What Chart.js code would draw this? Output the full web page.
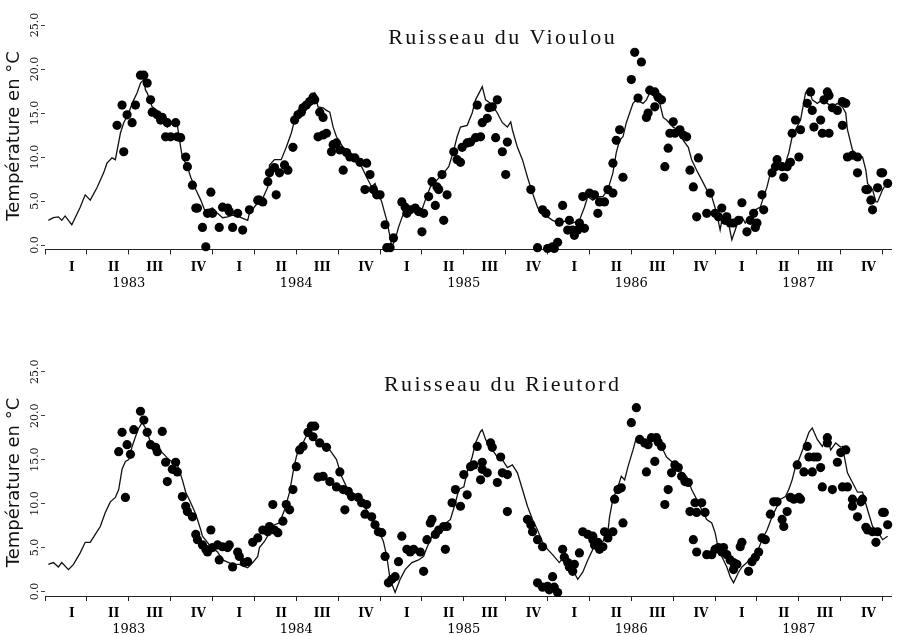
<!DOCTYPE html>
<html>
<head>
<meta charset="utf-8">
<script src="https://cdn.jsdelivr.net/npm/chart.js@4.4.1/dist/chart.umd.min.js"></script>
<style>
  html, body { margin: 0; padding: 0; background: #fff; }
  .panel { width: 897px; height: 318px; position: relative; }
  canvas { display: block; }
</style>
</head>
<body>
<div class="panel"><canvas id="c1" width="897" height="318"></canvas></div>
<div class="panel"><canvas id="c2" width="897" height="318"></canvas></div>
<script>
// ---------- labels ----------
const panelTitles = ['Ruisseau du Vioulou', 'Ruisseau du Rieutord'];
const yAxisTitle = 'Température en °C';
const yearLabels = ['1983', '1984', '1985', '1986', '1987'];
const quarterLabels = ['I', 'II', 'III', 'IV'];
const quarterLabelOffsets = [0.16, 0.41, 0.655, 0.915]; // fraction of year where I..IV are printed
const yTickValues = [0, 5, 10, 15, 20, 25];

// ---------- Ruisseau du Vioulou ----------
const vioulouLineTime = [1983.02,1983.05,1983.08,1983.10,1983.12,1983.14,1983.16,1983.21,1983.24,1983.27,1983.31,1983.35,1983.37,1983.40,1983.42,1983.45,1983.47,1983.50,1983.52,1983.55,1983.57,1983.59,1983.60,1983.61,1983.64,1983.67,1983.69,1983.72,1983.73,1983.76,1983.79,1983.81,1983.82,1983.85,1983.87,1983.90,1983.93,1983.96,1983.97,1984.00,1984.03,1984.06,1984.09,1984.12,1984.16,1984.21,1984.22,1984.27,1984.30,1984.33,1984.34,1984.37,1984.41,1984.44,1984.47,1984.49,1984.52,1984.55,1984.58,1984.61,1984.63,1984.66,1984.68,1984.70,1984.72,1984.74,1984.78,1984.82,1984.86,1984.89,1984.92,1984.95,1984.97,1984.99,1985.01,1985.04,1985.06,1985.07,1985.09,1985.11,1985.14,1985.18,1985.22,1985.25,1985.27,1985.30,1985.34,1985.38,1985.41,1985.44,1985.46,1985.48,1985.52,1985.55,1985.57,1985.60,1985.61,1985.63,1985.66,1985.69,1985.70,1985.73,1985.76,1985.78,1985.79,1985.82,1985.85,1985.88,1985.91,1985.94,1985.96,1986.00,1986.03,1986.07,1986.12,1986.15,1986.19,1986.22,1986.24,1986.27,1986.30,1986.33,1986.36,1986.39,1986.41,1986.43,1986.45,1986.47,1986.49,1986.51,1986.53,1986.55,1986.57,1986.59,1986.61,1986.63,1986.65,1986.67,1986.69,1986.71,1986.75,1986.78,1986.81,1986.84,1986.86,1986.89,1986.92,1986.95,1986.98,1987.01,1987.03,1987.04,1987.06,1987.08,1987.10,1987.12,1987.14,1987.16,1987.18,1987.21,1987.24,1987.27,1987.29,1987.31,1987.33,1987.36,1987.39,1987.42,1987.44,1987.46,1987.48,1987.51,1987.54,1987.56,1987.58,1987.61,1987.64,1987.67,1987.70,1987.73,1987.76,1987.78,1987.79,1987.82,1987.85,1987.88,1987.90,1987.91,1987.94,1987.96,1987.97,1988.00,1988.01];
const vioulouLineTemp = [2.8,3.1,3.2,2.8,3.3,2.8,2.3,4.3,5.7,5.1,6.5,8.2,9.3,9.9,9.7,12.7,13.9,15.0,16.1,17.3,18.4,18.8,17.6,17.3,15.7,15.3,14.8,14.0,13.4,13.9,13.6,11.1,10.0,8.9,7.7,6.3,5.1,3.6,4.0,4.2,3.6,3.1,3.2,3.4,3.2,2.8,3.6,4.8,5.3,6.6,9.1,9.7,9.7,11.1,12.7,14.2,15.3,16.1,16.8,17.3,15.7,15.6,15.3,15.1,13.4,12.3,11.1,10.5,9.7,8.9,7.7,6.6,7.0,5.9,4.9,2.8,0.9,-0.2,0.6,2.0,3.6,4.2,4.3,4.0,5.1,6.6,7.4,8.2,8.9,10.8,12.3,13.4,13.6,15.0,16.5,17.6,18.0,16.5,16.1,15.3,15.0,13.9,13.4,14.0,13.1,11.1,9.7,7.7,5.9,4.3,3.6,3.2,2.8,2.5,2.8,2.5,2.8,4.3,5.5,5.1,5.5,5.5,6.3,8.2,10.5,11.9,12.3,13.9,15.0,16.1,16.5,16.3,16.1,16.5,17.3,17.0,16.5,16.1,14.5,14.2,13.4,13.1,11.9,11.1,9.7,8.5,7.4,6.3,5.5,3.6,1.7,2.8,3.6,2.5,0.6,1.7,2.8,3.2,2.5,3.2,4.0,4.3,5.5,6.6,8.2,8.5,8.9,9.3,10.5,12.3,13.1,14.2,17.3,17.8,16.5,16.1,16.5,16.1,15.7,16.1,15.7,15.0,13.1,10.8,10.0,10.0,8.5,7.0,6.3,4.9,4.9,6.3,6.6];
const vioulouObsTime = [1983.43,1983.46,1983.47,1983.49,1983.52,1983.54,1983.57,1983.59,1983.61,1983.63,1983.64,1983.67,1983.69,1983.70,1983.73,1983.72,1983.75,1983.78,1983.79,1983.81,1983.84,1983.85,1983.88,1983.90,1983.91,1983.94,1983.96,1983.99,1983.97,1984.00,1984.04,1984.06,1984.09,1984.10,1984.12,1984.15,1984.18,1984.22,1984.27,1984.28,1984.30,1984.33,1984.34,1984.37,1984.38,1984.40,1984.43,1984.45,1984.48,1984.49,1984.51,1984.53,1984.54,1984.56,1984.58,1984.60,1984.61,1984.64,1984.66,1984.63,1984.66,1984.68,1984.72,1984.71,1984.74,1984.76,1984.78,1984.80,1984.82,1984.85,1984.88,1984.92,1984.94,1984.91,1984.96,1984.98,1985.00,1985.03,1985.08,1985.06,1985.04,1985.13,1985.15,1985.16,1985.18,1985.21,1985.23,1985.26,1985.25,1985.29,1985.31,1985.34,1985.35,1985.33,1985.40,1985.38,1985.37,1985.44,1985.46,1985.48,1985.49,1985.52,1985.54,1985.57,1985.60,1985.58,1985.61,1985.64,1985.65,1985.67,1985.70,1985.69,1985.73,1985.76,1985.75,1985.90,1985.97,1985.99,1985.94,1986.00,1986.03,1986.06,1986.04,1986.09,1986.07,1986.12,1986.13,1986.15,1986.16,1986.18,1986.19,1986.22,1986.21,1986.25,1986.28,1986.31,1986.34,1986.30,1986.36,1986.39,1986.39,1986.41,1986.43,1986.45,1986.50,1986.52,1986.56,1986.54,1986.59,1986.60,1986.61,1986.64,1986.66,1986.68,1986.64,1986.72,1986.70,1986.75,1986.73,1986.76,1986.79,1986.83,1986.81,1986.85,1986.87,1986.90,1986.89,1986.95,1986.97,1987.00,1987.02,1987.04,1987.06,1987.07,1987.09,1987.11,1987.14,1987.16,1987.19,1987.21,1987.23,1987.25,1987.24,1987.28,1987.29,1987.34,1987.36,1987.37,1987.40,1987.41,1987.43,1987.45,1987.46,1987.48,1987.50,1987.51,1987.55,1987.57,1987.58,1987.59,1987.63,1987.64,1987.65,1987.67,1987.68,1987.68,1987.70,1987.73,1987.76,1987.78,1987.76,1987.79,1987.82,1987.85,1987.85,1987.90,1987.91,1987.93,1987.94,1987.97,1987.99,1988.00,1988.03];
const vioulouObsTemp = [13.6,15.9,10.6,14.8,13.9,15.9,19.3,19.3,18.4,16.5,15.1,14.8,14.2,14.5,13.9,12.3,12.3,13.9,12.3,12.2,10.0,8.9,6.8,4.2,4.2,2.0,-0.2,6.0,3.6,3.6,2.0,4.3,4.2,3.8,2.0,3.6,1.7,4.0,5.1,5.1,4.9,7.2,8.2,8.8,5.7,8.2,9.1,8.5,11.1,14.2,14.8,15.1,15.6,15.9,16.3,16.8,16.5,15.1,14.5,12.3,12.5,12.7,11.4,10.6,11.6,10.8,8.5,10.5,10.0,9.9,9.4,9.3,8.0,6.3,6.3,5.7,5.7,2.3,0.8,-0.3,-0.3,4.9,4.3,3.6,4.0,4.2,3.8,3.6,1.5,5.5,7.2,6.6,6.3,4.5,5.7,2.8,8.0,10.6,9.7,9.4,11.1,11.6,11.7,12.2,12.3,15.9,13.9,14.4,15.6,15.7,16.5,12.2,10.6,11.7,8.0,6.3,4.0,3.6,-0.3,-0.4,-0.2,0.3,-0.4,4.5,2.6,1.7,2.8,1.7,1.1,1.7,2.5,1.9,5.5,5.9,5.7,4.9,4.9,3.6,6.3,5.9,9.3,11.9,13.1,7.7,18.8,21.9,20.8,16.7,14.5,15.0,17.6,17.4,16.8,16.5,15.7,11.0,8.9,14.0,12.7,12.7,13.1,12.3,12.5,8.5,6.6,9.9,3.2,3.6,5.9,3.6,3.2,4.2,2.8,3.2,2.5,2.5,2.8,4.8,1.5,2.8,3.6,2.5,2.0,5.7,4.0,8.2,8.9,9.7,8.9,7.7,8.9,9.4,12.7,14.2,10.0,13.1,16.1,17.4,15.3,13.4,14.2,12.7,16.5,17.4,17.0,12.7,15.6,15.3,16.3,16.1,13.6,10.0,10.2,10.0,8.2,6.3,6.3,5.1,4.0,6.5,8.2,8.2,7.0];

// ---------- Ruisseau du Rieutord ----------
const rieutordLineTime = [1983.02,1983.05,1983.08,1983.10,1983.14,1983.17,1983.21,1983.24,1983.27,1983.30,1983.33,1983.36,1983.39,1983.42,1983.44,1983.46,1983.48,1983.50,1983.52,1983.54,1983.56,1983.58,1983.60,1983.63,1983.67,1983.70,1983.73,1983.76,1983.79,1983.82,1983.84,1983.87,1983.90,1983.93,1983.94,1983.99,1984.03,1984.06,1984.12,1984.16,1984.21,1984.24,1984.27,1984.28,1984.31,1984.34,1984.37,1984.40,1984.43,1984.46,1984.48,1984.50,1984.52,1984.54,1984.57,1984.60,1984.63,1984.66,1984.70,1984.74,1984.77,1984.80,1984.83,1984.86,1984.89,1984.93,1984.96,1984.99,1985.02,1985.04,1985.06,1985.09,1985.12,1985.15,1985.19,1985.23,1985.26,1985.28,1985.31,1985.35,1985.38,1985.42,1985.45,1985.47,1985.50,1985.52,1985.55,1985.57,1985.60,1985.61,1985.63,1985.64,1985.67,1985.70,1985.73,1985.76,1985.79,1985.82,1985.85,1985.88,1985.91,1985.94,1985.97,1986.00,1986.03,1986.07,1986.10,1986.12,1986.15,1986.18,1986.21,1986.24,1986.27,1986.30,1986.33,1986.36,1986.37,1986.39,1986.42,1986.44,1986.46,1986.48,1986.51,1986.53,1986.55,1986.58,1986.61,1986.64,1986.67,1986.69,1986.71,1986.74,1986.78,1986.80,1986.83,1986.86,1986.89,1986.92,1986.95,1986.98,1987.00,1987.02,1987.04,1987.07,1987.09,1987.11,1987.14,1987.16,1987.19,1987.22,1987.25,1987.28,1987.31,1987.34,1987.37,1987.39,1987.42,1987.44,1987.46,1987.48,1987.50,1987.53,1987.56,1987.58,1987.61,1987.64,1987.67,1987.69,1987.72,1987.75,1987.76,1987.79,1987.82,1987.85,1987.88,1987.91,1987.94,1987.97,1988.00,1988.03];
const rieutordLineTemp = [3.1,3.3,2.8,3.3,2.5,3.1,4.4,5.6,5.6,6.5,7.4,9.0,10.2,10.7,11.6,13.9,14.8,15.0,16.5,17.6,18.6,19.2,18.6,17.0,16.4,15.8,15.2,14.7,14.4,12.7,11.3,10.1,8.8,7.0,6.3,5.1,4.5,3.6,3.1,3.1,2.7,3.3,4.0,5.0,5.7,6.7,7.6,7.8,9.3,11.3,13.5,15.3,16.5,16.9,18.1,17.3,17.0,16.5,16.1,15.0,13.1,11.9,11.3,10.7,10.1,9.0,8.2,7.0,5.7,4.0,1.4,-0.1,1.4,2.5,3.3,3.6,4.0,5.0,6.3,7.0,7.6,8.2,10.1,11.6,11.9,13.6,15.3,16.9,18.2,18.4,17.3,16.9,16.1,15.3,15.0,14.1,14.4,13.5,11.6,9.7,8.2,7.0,5.6,4.8,4.2,3.3,4.0,3.1,2.5,1.4,2.2,3.6,4.8,5.6,5.7,6.8,8.5,10.5,11.9,13.1,12.7,14.2,16.1,17.5,17.5,16.9,17.0,17.6,16.7,16.1,15.3,14.8,14.4,13.5,13.1,11.6,10.5,9.3,8.2,7.8,6.7,4.8,4.0,2.8,1.7,1.0,2.2,2.8,3.3,3.9,4.4,5.9,7.0,8.5,9.7,10.5,10.8,11.6,12.7,14.2,15.0,16.5,18.1,18.6,17.3,16.5,17.6,16.1,16.9,16.4,16.5,13.5,12.4,11.3,11.3,9.3,7.4,6.8,5.9,6.3];
const rieutordObsTime = [1983.44,1983.46,1983.49,1983.51,1983.53,1983.48,1983.57,1983.59,1983.61,1983.63,1983.66,1983.67,1983.70,1983.72,1983.73,1983.76,1983.78,1983.79,1983.82,1983.84,1983.85,1983.88,1983.90,1983.91,1983.94,1983.96,1983.99,1983.97,1984.00,1984.03,1984.04,1984.06,1984.09,1984.10,1984.12,1984.15,1984.16,1984.19,1984.21,1984.24,1984.27,1984.30,1984.33,1984.34,1984.37,1984.39,1984.36,1984.42,1984.44,1984.46,1984.48,1984.50,1984.52,1984.54,1984.57,1984.59,1984.61,1984.60,1984.64,1984.68,1984.63,1984.66,1984.70,1984.74,1984.76,1984.78,1984.81,1984.79,1984.83,1984.87,1984.89,1984.92,1984.91,1984.95,1984.97,1984.99,1985.01,1985.03,1985.05,1985.07,1985.09,1985.11,1985.13,1985.16,1985.18,1985.20,1985.24,1985.26,1985.28,1985.31,1985.30,1985.33,1985.35,1985.38,1985.40,1985.39,1985.43,1985.45,1985.48,1985.50,1985.52,1985.54,1985.56,1985.58,1985.61,1985.61,1985.60,1985.66,1985.67,1985.64,1985.70,1985.72,1985.73,1985.76,1985.76,1985.88,1985.90,1985.91,1985.94,1985.97,1985.94,1985.97,1986.00,1986.01,1986.04,1986.06,1986.03,1986.09,1986.10,1986.12,1986.13,1986.16,1986.15,1986.19,1986.21,1986.24,1986.27,1986.28,1986.27,1986.30,1986.31,1986.33,1986.36,1986.34,1986.39,1986.40,1986.42,1986.44,1986.45,1986.50,1986.53,1986.55,1986.58,1986.60,1986.62,1986.65,1986.66,1986.68,1986.64,1986.59,1986.72,1986.70,1986.74,1986.76,1986.78,1986.80,1986.82,1986.84,1986.85,1986.89,1986.88,1986.92,1986.94,1986.87,1986.89,1986.95,1986.98,1987.00,1987.02,1987.04,1987.05,1987.07,1987.09,1987.11,1987.13,1987.11,1987.16,1987.15,1987.20,1987.22,1987.24,1987.26,1987.28,1987.30,1987.33,1987.35,1987.37,1987.40,1987.41,1987.43,1987.45,1987.47,1987.50,1987.51,1987.49,1987.53,1987.55,1987.56,1987.59,1987.61,1987.58,1987.63,1987.64,1987.67,1987.67,1987.70,1987.73,1987.75,1987.78,1987.76,1987.79,1987.82,1987.82,1987.85,1987.87,1987.88,1987.90,1987.91,1987.94,1987.96,1987.97,1988.00,1988.01,1988.03];
const rieutordObsTemp = [15.9,18.1,16.7,15.6,18.4,10.7,20.5,19.5,18.1,16.7,16.4,15.9,18.2,14.7,12.5,13.9,14.7,13.6,10.8,9.7,9.1,8.5,6.5,5.9,5.3,4.8,7.0,4.5,5.0,5.3,3.6,5.1,5.0,5.3,2.8,4.5,4.0,3.3,3.4,5.6,6.1,7.0,6.8,7.4,7.0,6.7,9.9,8.0,9.9,9.3,11.6,14.2,16.1,16.5,18.1,18.8,18.8,17.6,16.9,16.4,13.0,13.1,12.5,11.9,13.6,11.6,11.4,9.3,10.8,10.7,10.1,9.9,8.8,8.5,7.6,6.8,6.7,4.0,1.0,1.4,1.7,3.4,6.3,4.8,4.5,4.8,4.5,2.3,5.9,8.2,7.8,6.5,7.0,7.4,7.4,4.8,10.1,11.6,9.7,13.3,11.0,14.2,14.4,16.5,14.7,13.9,12.7,16.9,16.4,13.5,12.4,15.3,13.5,13.3,9.1,8.2,7.6,6.8,5.9,5.1,1.0,0.5,0.6,0.2,0.5,-0.1,1.7,4.8,3.9,3.3,2.8,3.1,2.3,4.4,6.8,6.5,5.9,5.3,6.3,5.6,4.8,5.1,6.1,6.8,6.8,10.5,11.6,11.8,7.8,19.2,20.9,17.3,16.9,16.7,17.5,17.5,17.0,16.5,14.8,13.6,11.6,9.9,13.5,14.4,14.1,13.1,12.5,12.4,9.1,9.0,10.1,10.1,9.0,5.9,4.5,4.2,4.2,4.8,5.0,4.5,5.0,4.2,3.6,3.3,3.1,2.5,5.6,5.1,2.3,3.4,3.9,4.5,6.1,5.9,8.8,10.2,10.2,8.2,7.4,9.1,10.7,10.5,10.7,10.5,14.4,13.6,16.5,15.3,15.3,15.3,13.6,14.1,11.9,17.5,16.9,11.6,14.7,15.8,16.1,11.9,11.9,10.5,9.7,8.5,10.2,10.5,7.3,7.0,6.8,5.6,6.8,9.0,9.0,7.6];

// ---------- helpers ----------
function toPoints(times, temps) {
  return times.map((t, i) => ({ x: t, y: temps[i] }));
}

function buildQuarterTicks() {
  const ticks = [];
  yearLabels.forEach((yl) => {
    const y0 = Number(yl);
    for (let q = 0; q < 4; q++) ticks.push({ value: y0 + q / 4, kind: 'b', text: '' });
    quarterLabelOffsets.forEach((f, q) => ticks.push({ value: y0 + f, kind: 'q', text: quarterLabels[q] }));
  });
  ticks.push({ value: Number(yearLabels[yearLabels.length - 1]) + 1, kind: 'b', text: '' });
  ticks.sort((a, b) => a.value - b.value);
  return ticks;
}

function buildYearTicks() {
  return yearLabels.map((yl) => ({ value: Number(yl) + 0.5, text: yl }));
}

const insideTitle = {
  id: 'insideTitle',
  afterDatasetsDraw(chart, args, opts) {
    const { ctx, chartArea } = chart;
    ctx.save();
    ctx.font = opts.font;
    ctx.fillStyle = opts.color;
    ctx.textAlign = 'center';
    ctx.textBaseline = 'alphabetic';
    if ('letterSpacing' in ctx) ctx.letterSpacing = opts.letterSpacing;
    const x = chartArea.left + opts.xFrac * (chartArea.right - chartArea.left);
    ctx.fillText(opts.text, x, chartArea.top + opts.dy);
    ctx.restore();
  }
};

const X_MIN = 1983.0, X_MAX = 1988.05;

function makeChart(canvasId, title, lineTime, lineTemp, obsTime, obsTemp, padTop, padBottom) {
  return new Chart(document.getElementById(canvasId), {
    type: 'scatter',
    data: {
      datasets: [
        {
          type: 'line',
          data: toPoints(lineTime, lineTemp),
          borderColor: '#111',
          borderWidth: 1.3,
          pointRadius: 0,
          tension: 0,
          fill: false,
          clip: false,
          order: 2
        },
        {
          type: 'scatter',
          data: toPoints(obsTime, obsTemp),
          backgroundColor: '#000',
          borderWidth: 0,
          pointRadius: 4.6,
          clip: false,
          order: 1
        }
      ]
    },
    options: {
      responsive: false,
      animation: false,
      events: [],
      layout: { padding: { top: padTop, bottom: padBottom, left: 0, right: 6 } },
      plugins: {
        legend: { display: false },
        tooltip: { enabled: false },
        insideTitle: {
          text: title,
          font: '22px "Liberation Serif"',
          color: '#111',
          letterSpacing: '2.4px',
          xFrac: 0.541,
          dy: 22
        }
      },
      scales: {
        x: {
          type: 'linear',
          position: 'bottom',
          weight: 0,
          min: X_MIN,
          max: X_MAX,
          afterBuildTicks: (s) => { s.ticks = buildQuarterTicks(); },
          afterFit: (s) => { s.height = 22; },
          ticks: {
            autoSkip: false,
            minRotation: 0,
            maxRotation: 0,
            padding: 6,
            color: '#000',
            font: { family: '"DejaVu Serif"', size: 12, weight: 'bold' },
            callback: (v, i, ticks) => ticks[i].text
          },
          grid: {
            drawOnChartArea: false,
            drawTicks: true,
            tickLength: 5,
            color: (ctx) => (ctx.tick && ctx.tick.kind === 'b') ? '#222' : 'rgba(0,0,0,0)'
          },
          border: { display: true, color: '#222', width: 1 }
        },
        x2: {
          type: 'linear',
          position: 'bottom',
          weight: 1,
          min: X_MIN,
          max: X_MAX,
          afterBuildTicks: (s) => { s.ticks = buildYearTicks(); },
          afterFit: (s) => { s.height = 18; },
          ticks: {
            autoSkip: false,
            minRotation: 0,
            maxRotation: 0,
            padding: 4,
            color: '#000',
            font: { family: '"DejaVu Serif"', size: 13 },
            callback: (v, i, ticks) => ticks[i].text
          },
          grid: { display: false, drawTicks: false },
          border: { display: false }
        },
        y: {
          type: 'linear',
          position: 'left',
          min: -0.5,
          max: 25.3,
          afterBuildTicks: (s) => { s.ticks = yTickValues.map((v) => ({ value: v })); },
          afterFit: (s) => { s.width = 45; },
          ticks: {
            minRotation: 90,
            maxRotation: 90,
            crossAlign: 'center',
            padding: -6,
            color: '#111',
            font: { family: '"DejaVu Serif"', size: 11 },
            callback: (v) => Number(v).toFixed(1)
          },
          grid: {
            drawOnChartArea: false,
            drawTicks: true,
            tickLength: 4,
            color: '#444'
          },
          border: { display: false },
          title: {
            display: true,
            text: yAxisTitle,
            color: '#111',
            font: { family: '"DejaVu Sans"', size: 18 },
            padding: { top: 4, bottom: 0 }
          }
        }
      }
    },
    plugins: [insideTitle]
  });
}

makeChart('c1', panelTitles[0], vioulouLineTime, vioulouLineTemp, vioulouObsTime, vioulouObsTemp, 22.4, 28.6);
makeChart('c2', panelTitles[1], rieutordLineTime, rieutordLineTemp, rieutordObsTime, rieutordObsTemp, 51, 0);
</script>
</body>
</html>
